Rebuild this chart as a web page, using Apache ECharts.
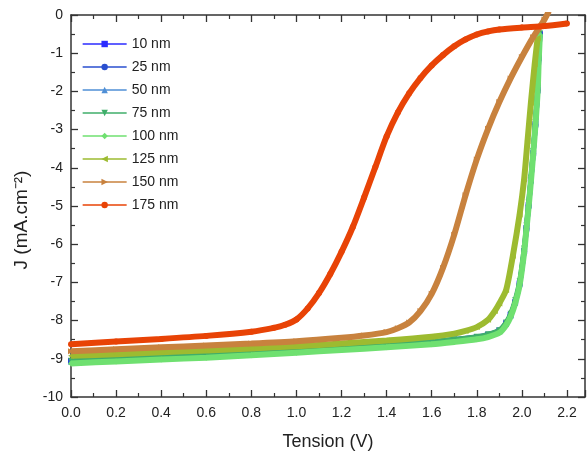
<!DOCTYPE html>
<html>
<head>
<meta charset="utf-8">
<script src="https://cdn.jsdelivr.net/npm/echarts@6/dist/echarts.min.js"></script>
<style>html,body{margin:0;padding:0;background:#fff}#c{width:588px;height:453px}</style>
</head>
<body>
<div id="c"></div>
<script>
// Series names
const seriesNames = ['10 nm', '25 nm', '50 nm', '75 nm', '100 nm', '125 nm', '150 nm', '175 nm'];
// Tick labels
const xTicks = ['0.0','0.2','0.4','0.6','0.8','1.0','1.2','1.4','1.6','1.8','2.0','2.2'];
const yTicks = [0,-1,-2,-3,-4,-5,-6,-7,-8,-9,-10];

// Voltage (V) for the thin-layer curves (10–100 nm)
const vThin = [0, 0.2, 0.4, 0.6, 0.8, 1.0, 1.2, 1.4, 1.6, 1.7, 1.8, 1.85, 1.9, 1.93, 1.95, 1.97, 1.99, 2.01, 2.02, 2.03, 2.04, 2.05, 2.06, 2.07, 2.075, 2.08];
const j10  = [-9.06, -9.01, -8.96, -8.91, -8.85, -8.78, -8.71, -8.64, -8.56, -8.50, -8.43, -8.37, -8.26, -8.07, -7.85, -7.52, -7.03, -6.18, -5.58, -4.98, -4.32, -3.62, -2.86, -1.96, -1.12, -0.50];
const j25  = [-9.07, -9.02, -8.97, -8.92, -8.86, -8.79, -8.72, -8.65, -8.57, -8.51, -8.44, -8.38, -8.27, -8.08, -7.86, -7.53, -7.04, -6.19, -5.59, -4.99, -4.33, -3.63, -2.87, -1.97, -1.12, -0.50];
const j50  = [-9.08, -9.03, -8.98, -8.93, -8.87, -8.80, -8.73, -8.66, -8.58, -8.52, -8.45, -8.39, -8.28, -8.09, -7.87, -7.54, -7.05, -6.20, -5.60, -5.00, -4.34, -3.64, -2.88, -1.98, -1.13, -0.51];
const j75  = [-9.05, -9.00, -8.95, -8.90, -8.84, -8.77, -8.70, -8.63, -8.55, -8.49, -8.42, -8.36, -8.25, -8.05, -7.82, -7.47, -6.97, -6.11, -5.51, -4.91, -4.26, -3.56, -2.81, -1.91, -1.07, -0.48];
const j100 = [-9.12, -9.07, -9.02, -8.97, -8.91, -8.84, -8.77, -8.70, -8.62, -8.56, -8.49, -8.43, -8.32, -8.12, -7.90, -7.56, -7.07, -6.22, -5.62, -5.02, -4.36, -3.66, -2.90, -2.00, -1.15, -0.52];

// 125 nm
const v125 = [0, 0.2, 0.4, 0.6, 0.8, 1.0, 1.2, 1.4, 1.6, 1.7, 1.75, 1.8, 1.85, 1.88, 1.9, 1.93, 1.96, 1.99, 2.01, 2.025, 2.04, 2.057, 2.07];
const j125 = [-8.92, -8.88, -8.83, -8.78, -8.73, -8.67, -8.60, -8.52, -8.42, -8.34, -8.27, -8.17, -7.98, -7.75, -7.55, -7.20, -6.30, -5.22, -4.30, -3.30, -2.30, -1.28, -0.60];

// 150 nm
const v150 = [0, 0.2, 0.4, 0.6, 0.8, 1.0, 1.2, 1.3, 1.4, 1.45, 1.5, 1.55, 1.6, 1.65, 1.7, 1.75, 1.8, 1.85, 1.9, 1.95, 2.0, 2.05, 2.1, 2.12];
const j150 = [-8.80, -8.75, -8.70, -8.65, -8.60, -8.54, -8.45, -8.39, -8.30, -8.20, -8.05, -7.75, -7.30, -6.62, -5.75, -4.72, -3.78, -2.98, -2.28, -1.66, -1.10, -0.58, -0.12, 0.10];

// 175 nm
const v175 = [0, 0.2, 0.4, 0.6, 0.8, 0.9, 0.95, 1.0, 1.05, 1.1, 1.15, 1.2, 1.25, 1.3, 1.35, 1.4, 1.45, 1.5, 1.55, 1.6, 1.65, 1.7, 1.75, 1.8, 1.85, 1.9, 2.0, 2.1, 2.2];
const j175 = [-8.62, -8.55, -8.48, -8.40, -8.29, -8.19, -8.11, -7.97, -7.68, -7.28, -6.78, -6.20, -5.55, -4.78, -3.98, -3.18, -2.55, -2.05, -1.65, -1.32, -1.05, -0.82, -0.64, -0.51, -0.43, -0.38, -0.33, -0.29, -0.22];

const vData = [vThin, vThin, vThin, vThin, vThin, v125, v150, v175];
const jData = [j10, j25, j50, j75, j100, j125, j150, j175];
const colors = ['#2b2bff', '#2a4fcf', '#4f8fd6', '#3fae6a', '#6fe070', '#9dbb30', '#c8823e', '#e84306'];
const symbols = ['rect', 'circle', 'triangle', 'triangle', 'diamond', 'triangle', 'triangle', 'circle'];
const rotations = [0, 0, 0, 180, 0, 90, -90, 0];
const widths = [5, 5, 5, 5, 6, 6, 6, 6];

const series = seriesNames.map((name, i) => ({
  name: name,
  type: 'line',
  data: vData[i].map((v, k) => [v, jData[i][k]]),
  smooth: 0.25,
  color: colors[i],
  symbol: symbols[i],
  symbolRotate: rotations[i],
  symbolSize: 6,
  showSymbol: true,
  lineStyle: { width: widths[i], color: colors[i] },
  itemStyle: { color: colors[i] },
  clip: true,
  z: 2 + i,
  animation: false
}));

const chart = echarts.init(document.getElementById('c'), null, { renderer: 'canvas' });
const axisCol = '#333';
chart.setOption({
  animation: false,
  backgroundColor: '#fff',
  textStyle: { fontFamily: 'Liberation Sans, Arial, sans-serif' },
  grid: { left: 71, right: 3, top: 15, bottom: 56, containLabel: false, outerBoundsMode: 'none' },
  legend: {
    orient: 'vertical',
    left: 77, top: 32,
    itemWidth: 44, itemHeight: 8, itemGap: 9,
    data: seriesNames,
    textStyle: { fontSize: 14, color: '#222', lineHeight: 14, padding: [0, 0, 0, 0] },
    lineStyle: { width: 1.3 },
    selectedMode: false
  },
  xAxis: [{
    type: 'value', min: 0, max: 2.28, interval: 0.2,
    axisLine: { show: true, onZero: false, lineStyle: { color: axisCol, width: 1.5 } },
    axisTick: { show: true, inside: true, length: 7, lineStyle: { color: axisCol, width: 1.3 } },
    minorTick: { show: true, splitNumber: 2, length: 4, lineStyle: { color: axisCol, width: 1.2 } },
    splitLine: { show: false },
    axisLabel: {
      fontSize: 14, color: '#222', margin: 9,
      formatter: function (v) { const idx = Math.round(v / 0.2); return Math.abs(v - idx * 0.2) < 1e-6 && xTicks[idx] !== undefined ? xTicks[idx] : ''; }
    },
    name: 'Tension (V)', nameLocation: 'middle', nameGap: 36,
    nameTextStyle: { fontSize: 18, color: '#222' }
  }, {
    type: 'value', position: 'top', min: 0, max: 2.28, interval: 0.2,
    axisLine: { show: true, onZero: false, lineStyle: { color: axisCol, width: 1.5 } },
    axisTick: { show: true, inside: true, length: 7, lineStyle: { color: axisCol, width: 1.3 } },
    minorTick: { show: true, splitNumber: 2, length: 4, lineStyle: { color: axisCol, width: 1.2 } },
    splitLine: { show: false }, axisLabel: { show: false }
  }],
  yAxis: [{
    type: 'value', min: -10, max: 0, interval: 1,
    axisLine: { show: true, onZero: false, lineStyle: { color: axisCol, width: 1.5 } },
    axisTick: { show: true, inside: true, length: 7, lineStyle: { color: axisCol, width: 1.3 } },
    minorTick: { show: true, splitNumber: 2, length: 4, lineStyle: { color: axisCol, width: 1.2 } },
    splitLine: { show: false },
    axisLabel: { fontSize: 14, color: '#222', margin: 8,
      formatter: function (v) { const idx = yTicks.indexOf(Math.round(v)); return idx >= 0 ? String(yTicks[idx]) : ''; } },
    name: 'J (mA.cm⁻²)', nameLocation: 'middle', nameGap: 40, nameRotate: 90,
    nameTextStyle: { fontSize: 19, color: '#222', padding: [0, 28, 0, 0] }
  }, {
    type: 'value', position: 'right', min: -10, max: 0, interval: 1,
    axisLine: { show: true, onZero: false, lineStyle: { color: axisCol, width: 1.5 } },
    axisTick: { show: true, inside: true, length: 7, lineStyle: { color: axisCol, width: 1.3 } },
    minorTick: { show: true, splitNumber: 2, length: 4, lineStyle: { color: axisCol, width: 1.2 } },
    splitLine: { show: false }, axisLabel: { show: false }
  }],
  series: series
});
</script>
</body>
</html>
